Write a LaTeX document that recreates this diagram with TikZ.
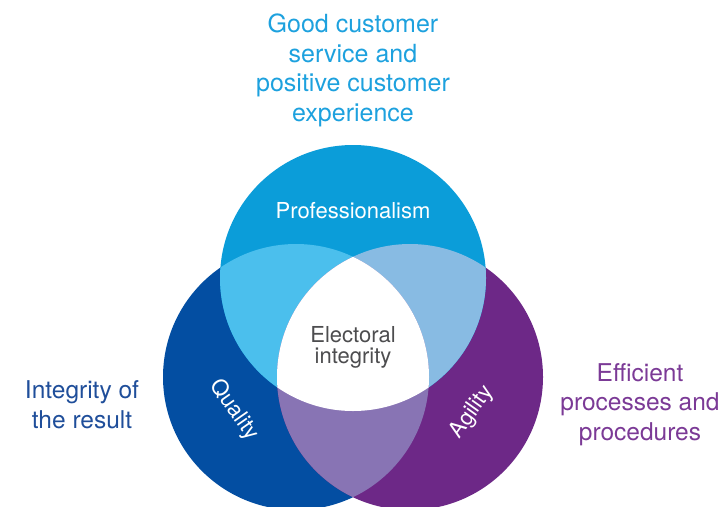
\documentclass[tikz,border=0pt]{standalone}
\usepackage{fontspec}
\setmainfont{TeX Gyre Heros}
\definecolor{ctop}{RGB}{11,157,217}
\definecolor{cleft}{RGB}{3,78,162}
\definecolor{cright}{RGB}{109,40,135}
\definecolor{ctl}{RGB}{75,191,237}
\definecolor{ctr}{RGB}{136,187,227}
\definecolor{cbot}{RGB}{136,116,180}
\definecolor{tblue}{RGB}{29,161,222}
\definecolor{tdblue}{RGB}{31,78,154}
\definecolor{tpurple}{RGB}{123,58,150}
\definecolor{tgray}{RGB}{77,77,79}
\tikzset{
  outer/.style={inner sep=0pt, align=center, anchor=base, font=\fontsize{24.5}{29.5}\selectfont},
  inner/.style={inner sep=0pt, align=center, font=\fontsize{22}{21}\selectfont},
}
\begin{document}
\begin{tikzpicture}[x=1pt,y=-1pt]
\useasboundingbox (0,0) rectangle (727,506);
\coordinate (T) at (353,278);
\coordinate (L) at (296,377);
\coordinate (R) at (410,377);
\def\rad{133pt}
\fill[cleft] (L) circle[radius=\rad];
\fill[cright] (R) circle[radius=\rad];
\fill[ctop] (T) circle[radius=\rad];
\begin{scope}
  \clip (T) circle[radius=\rad];
  \fill[ctl] (L) circle[radius=\rad];
  \fill[ctr] (R) circle[radius=\rad];
\end{scope}
\begin{scope}
  \clip (L) circle[radius=\rad];
  \fill[cbot] (R) circle[radius=\rad];
  \clip (R) circle[radius=\rad];
  \fill[white] (T) circle[radius=\rad];
\end{scope}
\node[outer, text=tblue, font=\fontsize{25}{29.5}\selectfont] (good) at (353,121) {Good customer\\service and\\positive customer\\experience};
\node[outer, text=tdblue] (integ) at (82,428) {Integrity of\\the result};
\node[outer, text=tpurple] (eff) at (640,440) {Efficient\\processes and\\procedures};
\node[inner, text=white, anchor=base] (prof) at (353,218) {Professionalism};
\node[inner, text=tgray, anchor=base] (elec) at (353,363) {Electoral\\integrity};
\node[inner, text=white, rotate=-55] (qual) at (234,410) {Quality};
\node[inner, text=white, rotate=54.5] (agil) at (472,412) {Agility};
\end{tikzpicture}
\end{document}
